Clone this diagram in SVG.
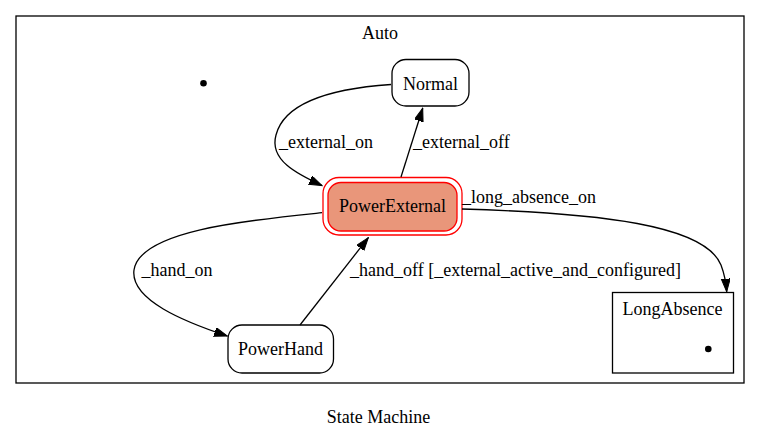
<svg xmlns="http://www.w3.org/2000/svg" width="760" height="432" viewBox="0 0 760 432">
<defs>
<marker id="ah" markerUnits="userSpaceOnUse" markerWidth="14" markerHeight="10" refX="13" refY="4.5" orient="auto">
<path d="M0,0 L13,4.5 L0,9 z" fill="#000" stroke="#000" stroke-width="1"/>
</marker>
<style>
text{font-family:"Liberation Serif","Times New Roman",serif;font-size:18px;fill:#000}
.c{text-anchor:middle}
.node{fill:#fff;stroke:#000;stroke-width:1.3}
.edge{fill:none;stroke:#000;stroke-width:1.3;marker-end:url(#ah)}
.cl{fill:none;stroke:#000;stroke-width:1.3}
</style>
</defs>
<rect width="760" height="432" fill="#fff"/>
<g id="cluster_auto">
<rect class="cl" x="16" y="16" width="728" height="367"/>
<text class="c" x="380" y="38.7">Auto</text>
</g>
<g id="init">
<circle cx="203.5" cy="83.3" r="3.3" fill="#000"/>
</g>
<g id="Normal">
<rect class="node" x="392" y="59.5" width="77" height="46.5" rx="14" ry="14"/>
<text class="c" x="430.5" y="89.5">Normal</text>
</g>
<g id="PowerExternal">
<rect x="323" y="177.5" width="139" height="57.5" rx="16" ry="16" fill="none" stroke="#ff0000" stroke-width="1.3"/>
<rect x="328" y="182.5" width="129" height="48.5" rx="13" ry="13" fill="#e9967a" stroke="#ff0000" stroke-width="1.3"/>
<text class="c" x="392.5" y="212">PowerExternal</text>
</g>
<g id="PowerHand">
<rect class="node" x="228" y="325" width="105.5" height="48" rx="14" ry="14"/>
<text class="c" x="280.5" y="355">PowerHand</text>
</g>
<g id="LongAbsence">
<rect class="cl" x="612.5" y="292.5" width="121" height="80.5"/>
<text class="c" x="672.5" y="315">LongAbsence</text>
<circle cx="708.3" cy="349" r="3.3" fill="#000"/>
</g>
<g id="edges">
<path class="edge" d="M391,84.5 C340,88 285,100 276,135 C269,160 297,174 322,185.5"/>
<text x="279" y="148">_external_on</text>
<path class="edge" d="M401,177 L422.7,108.3"/>
<text x="413" y="148">_external_off</text>
<path class="edge" d="M462,209 C600,213 705,225 721,265 C724,273 726,282 726.7,291.7"/>
<text x="462" y="203">_long_absence_on</text>
<path class="edge" d="M322,212.7 C250,220 140,230 134,270 C130,300 185,322 227.3,336"/>
<text x="141.5" y="276">_hand_on</text>
<path class="edge" d="M300,325 L368.3,237.7"/>
<text x="350" y="276">_hand_off [_external_active_and_configured]</text>
</g>
<text class="c" x="378.5" y="423.3">State Machine</text>
</svg>
